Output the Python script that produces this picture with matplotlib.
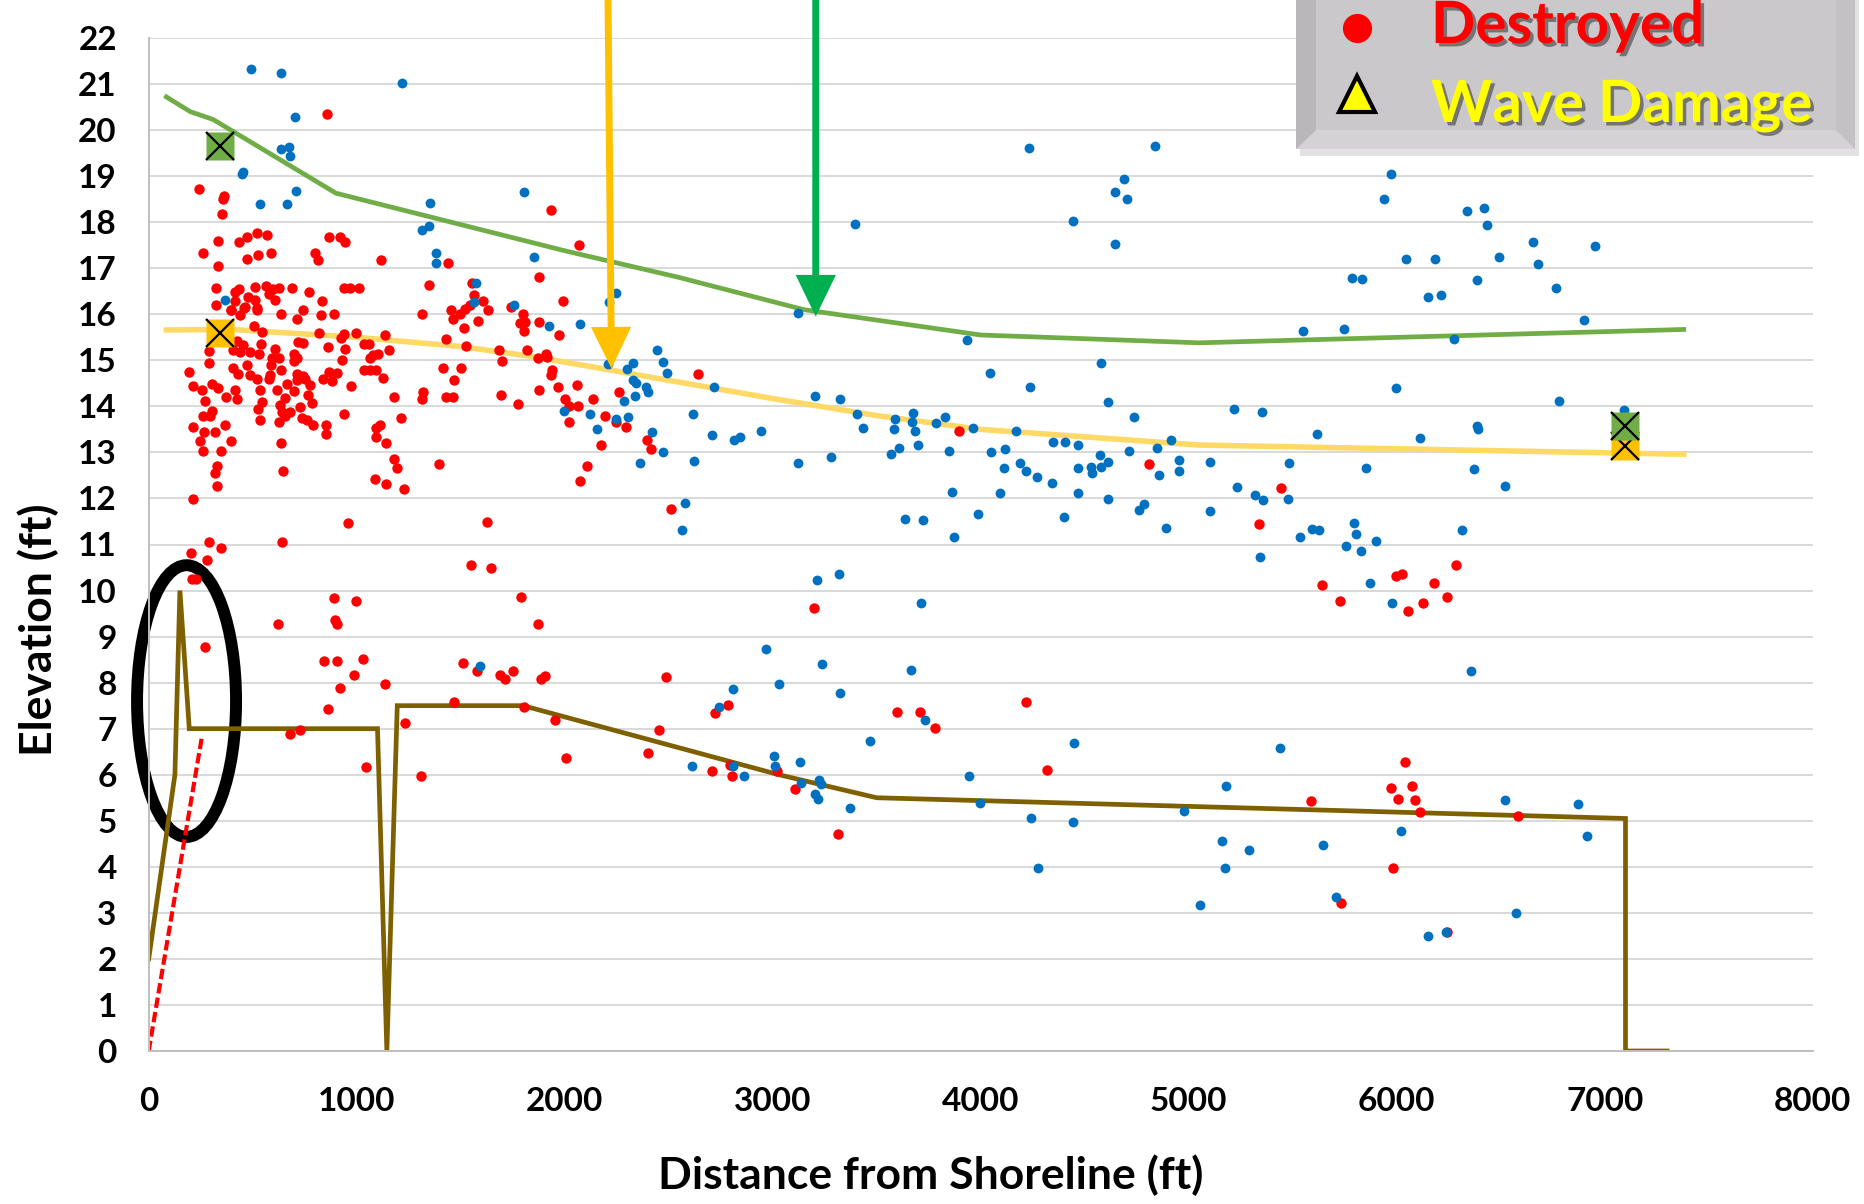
import matplotlib.pyplot as plt
import matplotlib.patheffects as pe
from matplotlib.patches import Ellipse, Polygon, Rectangle
from matplotlib.lines import Line2D

plt.rcParams['font.family'] = ['Lato', 'DejaVu Sans']
plt.rcParams['font.weight'] = 'bold'

# --- structures destroyed: (distance ft, elevation ft) ---
destroyed_x = [
    856, 242, 364, 355, 352, 1935, 333, 434, 473, 522, 570, 260, 471, 527, 588, 333, 799, 814, 865, 920,
    944, 1118, 1437, 1349, 1553, 1562, 1607, 1876, 325, 323, 415, 434, 415, 394, 476, 511, 511, 522, 460, 564,
    580, 599, 607, 628, 690, 772, 832, 939, 969, 1012,
    398, 461, 522, 439, 634, 740, 711, 826, 892, 506, 543, 423, 455, 406, 439, 487, 530, 538, 288, 291,
    195, 214, 256, 270, 262, 302, 294, 211, 266, 246, 259, 318, 366, 398, 350, 326, 320, 304, 331, 374,
    414, 423, 403, 430, 471, 487, 523, 535, 543, 527, 535, 607, 591, 628, 586, 634, 583, 578, 615, 663,
    655, 631, 639, 679, 655, 626, 634, 647, 716, 740, 700, 711, 700, 711, 740, 711, 751, 775, 698, 764,
    786, 727, 735, 759, 791, 820, 863, 836, 868, 882, 906, 929, 945, 924, 938, 999, 975, 938, 852, 852,
    1034, 1058, 1137, 1155, 1103, 1079, 1063, 1034, 1063, 1091, 1127, 1179, 1211, 1111, 1095, 1095, 1140, 1179, 1195, 1086,
    1312, 1427, 1413, 1467, 1501, 1320, 1316, 1429, 1464, 1395, 1453, 1461, 1496, 1520, 1544, 1584, 1632, 1515, 1525, 1682,
    1699, 1696, 1776, 1744, 1800, 1784, 1807, 1803, 1821, 1876, 1872, 1912, 1917, 1973, 1941, 1936, 1877, 1968, 2000, 2021,
    328, 1141, 1229, 214, 957, 1626, 639, 288, 348, 205, 279, 207, 226, 1548, 1644, 892, 998, 1788, 620, 895,
    907, 1870, 269, 841, 907, 1030, 985, 920, 1136, 1511, 1577, 1690, 1711, 1751, 1886, 1907,
    681, 727, 860, 1045, 1234, 1309, 1469, 1803, 1955,
    2070, 1993, 2057, 2022, 2062, 2134, 2259, 2195, 2249, 2293, 2176, 2108, 2073, 2397, 2416, 2642, 2509, 3896,
    2004, 2453, 2485, 2402, 2706, 2724, 2786, 2794, 2804, 3022, 3108, 3199, 3316, 3597, 3707, 3778,
    4810, 5443, 5337, 5643, 5995, 6026, 5726, 6055, 4220, 4318, 5590, 6039, 5975, 6007, 5983, 5731,
    6181, 6283, 6126, 6242, 6075, 6089, 6113, 6583, 6242,
]
destroyed_y = [
    20.36, 18.71, 18.57, 18.50, 18.18, 18.26, 17.59, 17.58, 17.67, 17.77, 17.72, 17.32, 17.21, 17.28, 17.32, 17.05, 17.33, 17.18, 17.67, 17.68,
    17.57, 17.18, 17.11, 16.63, 16.67, 16.42, 16.29, 16.82, 16.58, 16.21, 16.49, 16.54, 16.28, 16.10, 16.37, 16.60, 16.31, 16.10, 16.14, 16.62,
    16.45, 16.54, 16.31, 16.58, 16.58, 16.49, 16.28, 16.58, 16.58, 16.58,
    16.09, 16.16, 16.14, 15.98, 16.00, 16.10, 15.89, 15.98, 16.00, 15.75, 15.62, 15.43, 15.33, 15.22, 15.18, 15.18, 15.14, 15.36, 15.20, 14.95,
    14.75, 14.44, 14.35, 14.12, 13.80, 13.91, 13.79, 13.56, 13.44, 13.24, 13.04, 13.44, 13.59, 13.24, 13.04, 12.70, 12.56, 14.49, 14.40, 14.20,
    14.35, 14.15, 14.84, 14.71, 14.89, 14.69, 14.60, 14.35, 14.09, 13.95, 13.70, 15.25, 15.05, 15.05, 14.89, 14.80, 14.69, 14.60, 14.35, 14.49,
    14.19, 14.04, 13.88, 13.88, 13.80, 13.67, 13.20, 12.59, 15.40, 15.38, 15.14, 15.05, 14.98, 14.71, 14.66, 14.58, 14.59, 14.46, 14.33, 14.24,
    14.07, 13.99, 13.75, 13.70, 13.59, 15.60, 15.30, 14.60, 14.75, 14.55, 14.73, 15.00, 15.24, 15.49, 15.58, 15.60, 14.44, 13.84, 13.60, 13.41,
    15.35, 15.35, 15.54, 15.22, 15.14, 15.12, 15.04, 14.80, 14.80, 14.78, 14.62, 14.20, 13.75, 13.60, 13.54, 13.33, 13.20, 12.85, 12.66, 12.43,
    16.01, 15.46, 14.84, 14.58, 14.84, 14.31, 14.15, 14.20, 14.20, 12.74, 16.09, 15.89, 16.01, 16.12, 16.21, 15.85, 16.10, 15.70, 15.31, 15.22,
    14.99, 14.24, 14.05, 16.16, 16.00, 15.80, 15.83, 15.63, 15.22, 15.83, 15.05, 15.14, 15.07, 15.56, 14.80, 14.69, 14.35, 14.42, 14.17, 13.66,
    12.27, 12.31, 12.21, 11.98, 11.47, 11.49, 11.06, 11.06, 10.92, 10.81, 10.66, 10.26, 10.26, 10.56, 10.48, 9.83, 9.77, 9.87, 9.27, 9.35,
    9.27, 9.27, 8.77, 8.48, 8.48, 8.52, 8.17, 7.88, 7.98, 8.43, 8.26, 8.17, 8.08, 8.26, 8.08, 8.15,
    6.88, 6.97, 7.43, 6.17, 7.12, 5.97, 7.57, 7.48, 7.18,
    17.51, 16.29, 14.46, 14.01, 14.01, 14.17, 14.32, 13.80, 13.65, 13.56, 13.16, 12.70, 12.38, 13.28, 13.07, 14.71, 11.77, 13.46,
    6.37, 6.97, 8.12, 6.48, 6.08, 7.33, 7.51, 6.21, 5.97, 6.08, 5.68, 9.62, 4.72, 7.37, 7.37, 7.01,
    12.74, 12.23, 11.44, 10.12, 10.32, 10.37, 9.77, 9.56, 7.57, 6.10, 5.43, 6.27, 5.72, 5.47, 3.97, 3.22,
    10.16, 10.55, 9.74, 9.85, 5.76, 5.45, 5.20, 5.11, 2.59,
]

# --- structures not destroyed ---
standing_x = [
    492, 634, 1216, 702, 634, 676, 681, 447, 451, 708, 537, 665, 1354, 1806, 1312, 1350, 1381, 1381, 1852, 367,
    1575, 1562, 1755, 1926, 1996, 1593,
    3395, 2249, 2211, 2073, 2442, 2471, 2490, 2209, 2301, 2330, 2326, 2342, 2390, 2402, 2338, 2286, 2719, 2124, 2153, 2246,
    2306, 2419, 2472, 2360, 2615, 2623, 2706, 2815, 2842, 2942, 2576, 2563, 3123, 3204, 3324, 3403, 3435, 3123, 3280, 3935,
    3587, 3584, 3606, 3571, 3675, 3672, 3682, 3698, 3787, 3827, 3848, 3964, 3861, 3635, 3723, 3874, 3988,
    3214, 3321, 3712, 2966, 3238, 3028, 2807, 3324, 3667, 2740, 3731, 3469, 2610, 2807, 2863, 3007, 3010, 3131, 3137, 3223,
    3230, 3204, 3219, 3374, 3943, 3996,
    4233, 4839, 4690, 4645, 4701, 4446, 4645, 5975, 5941, 6043, 5786, 5835, 5550, 5749, 4044, 4238, 4576, 4613, 4736, 5217,
    5351, 5997, 5619, 4169, 4049, 4119, 4110, 4188, 4220, 4272, 4341, 4350, 4406, 4470, 4466, 4530, 4534, 4573, 4576, 4613,
    4095, 4467, 4613, 4401, 4760, 4786, 4711, 4848, 4917, 4856, 4954, 4953, 4890, 5102, 5102, 5234, 5318, 5355, 5478, 5480,
    5534, 5593, 5625, 5794, 5803, 5755, 5826, 5899, 5854, 5342, 5874,
    5979, 4448, 4244, 4276, 4443, 4978, 5052, 5180, 5162, 5175, 5291, 5438, 5646, 5710, 6019,
    6338, 6418, 6435, 6182, 6491, 6656, 6680, 6953, 6384, 6150, 6214, 6764, 6902, 6274, 6778, 7095, 6112, 6387, 6389, 6371,
    6519, 6315, 6358, 6523, 6871, 6916, 6575, 6150, 6238,
]
standing_y = [
    21.32, 21.25, 21.03, 20.28, 19.58, 19.63, 19.44, 19.04, 19.10, 18.68, 18.39, 18.39, 18.42, 18.65, 17.82, 17.92, 17.32, 17.11, 17.24, 16.32,
    16.67, 16.26, 16.20, 15.74, 13.91, 8.37,
    17.97, 16.47, 16.26, 15.78, 15.22, 14.96, 14.72, 14.91, 14.82, 14.95, 14.57, 14.51, 14.43, 14.32, 14.23, 14.11, 14.42, 13.84, 13.50, 13.73,
    13.77, 13.44, 13.01, 12.77, 13.83, 12.81, 13.37, 13.28, 13.34, 13.46, 11.91, 11.31, 16.03, 14.22, 14.17, 13.83, 13.54, 12.77, 12.90, 15.45,
    13.73, 13.50, 13.10, 12.97, 13.85, 13.67, 13.46, 13.16, 13.64, 13.77, 13.02, 13.52, 12.15, 11.56, 11.54, 11.16, 11.66,
    10.23, 10.37, 9.72, 8.72, 8.41, 7.97, 7.87, 7.77, 8.27, 7.48, 7.19, 6.73, 6.18, 6.19, 5.97, 6.41, 6.19, 6.27, 5.81, 5.89,
    5.80, 5.59, 5.47, 5.28, 5.97, 5.38,
    19.61, 19.65, 18.93, 18.65, 18.50, 18.02, 17.52, 19.04, 18.50, 17.21, 16.79, 16.76, 15.63, 15.67, 14.73, 14.42, 14.94, 14.10, 13.77, 13.94,
    13.88, 14.40, 13.40, 13.46, 13.00, 13.07, 12.67, 12.78, 12.59, 12.46, 12.34, 13.23, 13.23, 13.17, 12.67, 12.69, 12.55, 12.94, 12.69, 12.80,
    12.11, 12.11, 11.98, 11.60, 11.75, 11.87, 13.04, 13.10, 13.28, 12.52, 12.83, 12.60, 11.35, 12.80, 11.73, 12.25, 12.07, 11.96, 11.98, 12.77,
    11.17, 11.33, 11.31, 11.46, 11.23, 10.97, 10.85, 11.08, 12.67, 10.73, 10.17,
    9.72, 6.68, 5.07, 3.97, 4.97, 5.22, 3.17, 5.76, 4.57, 3.97, 4.37, 6.57, 4.47, 3.34, 4.78,
    18.24, 18.30, 17.94, 17.21, 17.25, 17.56, 17.10, 17.48, 16.75, 16.37, 16.42, 16.56, 15.87, 15.46, 14.12, 13.93, 13.31, 13.57, 13.50, 12.64,
    12.27, 11.31, 8.26, 5.45, 5.36, 4.66, 2.99, 2.50, 2.59,
]

# --- profiles along the transect ---
ground_x = [0, 126, 150, 195, 1100, 1145, 1195, 1800, 3030, 3500, 7100, 7100, 7300]
ground_y = [2.0, 6.0, 10.0, 7.0, 7.0, 0.0, 7.5, 7.5, 6.0, 5.5, 5.05, 0.0, 0.0]

crest_x = [85, 200, 310, 900, 2000, 2550, 3150, 4000, 5050, 7380]
crest_y = [20.72, 20.4, 20.23, 18.63, 17.38, 16.8, 16.1, 15.55, 15.38, 15.67]

stillwater_x = [85, 400, 1000, 1500, 1850, 3000, 3500, 4000, 5050, 7380]
stillwater_y = [15.66, 15.67, 15.5, 15.3, 15.08, 14.17, 13.8, 13.5, 13.16, 12.96]

dune_slope_x = [0, 255]
dune_slope_y = [0.0, 6.8]

# boxed reference points
crest_pts_x = [343, 7096]
crest_pts_y = [19.65, 13.57]
stillwater_pts_x = [343, 7096]
stillwater_pts_y = [15.59, 13.15]

# callout arrows (top -> tip)
orange_arrow = [(2208, 22.9), (2225, 14.82)]
green_arrow = [(3207, 22.9), (3207, 15.95)]

W, H = 1865, 1204
fig = plt.figure(figsize=(W / 100, H / 100), dpi=100)
ax = fig.add_axes([148.7 / W, 1 - 1051 / H, 1664 / W, 1013 / H])


def fx(px):
    return px / W


def fy(py):
    return 1 - py / H


ax.set_xlim(0, 8000)
ax.set_ylim(0, 22)
ax.set_xticks(range(0, 8001, 1000))
ax.set_yticks(range(0, 23))
ax.yaxis.grid(True, color='#D9D9D9', lw=1.4)
ax.set_axisbelow(True)
for s in ['top', 'right']:
    ax.spines[s].set_visible(False)
for s in ['left', 'bottom']:
    ax.spines[s].set_color('#BFBFBF')
    ax.spines[s].set_linewidth(1.4)
ax.tick_params(axis='both', length=0, labelsize=24)
ax.tick_params(axis='y', pad=23)
ax.tick_params(axis='x', pad=26)

# circled dune
ax.add_patch(Ellipse((182, 7.6), 476, 5.9, fill=False, ec='black', lw=8.6, clip_on=False, zorder=1.5))

ax.plot(ground_x, ground_y, color='#7F6000', lw=3.4, zorder=2, solid_joinstyle='miter')
ax.plot(dune_slope_x, dune_slope_y, color='#FF0000', lw=3.0, dashes=(2.5, 1.0), zorder=2.2)
ax.plot(crest_x, crest_y, color='#70AD47', lw=3.4, zorder=2)
ax.plot(stillwater_x, stillwater_y, color='#FFD966', lw=4.0, zorder=2)

ax.scatter(destroyed_x, destroyed_y, s=56, color='#FF0000', lw=0, zorder=3)
ax.scatter(standing_x, standing_y, s=50, color='#0070C0', lw=0, zorder=4)

# boxed points with an X
ax.plot(stillwater_pts_x, stillwater_pts_y, ls='none', marker='s', ms=19.5, mfc='#FFC000', mec='none', zorder=5)
ax.plot(stillwater_pts_x, stillwater_pts_y, ls='none', marker='x', ms=19.5, mec='black', mew=1.6, zorder=5.1)
ax.plot(crest_pts_x, crest_pts_y, ls='none', marker='s', ms=19.5, mfc='#70AD47', mec='none', zorder=5.2)
ax.plot(crest_pts_x, crest_pts_y, ls='none', marker='x', ms=19.5, mec='black', mew=1.6, zorder=5.3)

for (x0, y0), (x1, y1), col in [(orange_arrow[0], orange_arrow[1], '#FFC000'),
                                (green_arrow[0], green_arrow[1], '#00B050')]:
    ax.annotate('', xy=(x1, y1), xytext=(x0, y0), annotation_clip=False, zorder=6,
                arrowprops=dict(arrowstyle='simple,head_length=30,head_width=29,tail_width=5',
                                mutation_scale=1, color=col, lw=0, shrinkA=0, shrinkB=0))

ax.set_xlabel('Distance from Shoreline (ft)', fontsize=32, fontweight='bold', va='center')
ax.xaxis.set_label_coords((931 - 148.7) / 1664, (1051 - 1175) / 1013)
ax.set_ylabel('Elevation (ft)', fontsize=32, fontweight='bold', va='center')
ax.yaxis.set_label_coords((38 - 148.7) / 1664, (1051 - 630) / 1013)

# legend panel (top right, runs off the top edge)
fig.add_artist(Rectangle((fx(1300), fy(156)), fx(1859) - fx(1300), fy(0) - fy(156) + 0.02,
                         transform=fig.transFigure, fc='#A0A0A0', ec='none', alpha=0.3, zorder=7))
fig.add_artist(Rectangle((fx(1296), fy(149)), fx(1855) - fx(1296), fy(0) - fy(149) + 0.02,
                         transform=fig.transFigure, fc='#C3C1C3', ec='none', zorder=7.1))
fig.add_artist(Polygon([(fx(1296), fy(149)), (fx(1855), fy(149)), (fx(1836), fy(130)), (fx(1316), fy(130))],
                       closed=True, transform=fig.transFigure, fc='#D4D2D4', ec='none', zorder=7.2))
fig.add_artist(Polygon([(fx(1296), fy(149)), (fx(1316), fy(130)), (fx(1316), fy(-20)), (fx(1296), fy(-20))],
                       closed=True, transform=fig.transFigure, fc='#B9B7B9', ec='none', zorder=7.2))
fig.add_artist(Rectangle((fx(1316), fy(130)), fx(1836) - fx(1316), fy(-20) - fy(130),
                         transform=fig.transFigure, fc='#CAC8CA', ec='none', zorder=7.3))

fig.add_artist(Line2D([fx(1357)], [fy(28)], transform=fig.transFigure, ls='none', marker='o', ms=21,
                      mfc='#FF0000', mec='none', zorder=8))
fig.add_artist(Line2D([fx(1357)], [fy(94)], transform=fig.transFigure, ls='none', marker='^', ms=26,
                      mfc='#FFFF00', mec='black', mew=3, zorder=8))
shadow = [pe.withSimplePatchShadow(offset=(2.5, -2.5), shadow_rgbFace='#303030', alpha=0.55)]
fig.text(fx(1431), fy(43), 'Destroyed', color='#FF0000', fontsize=42, fontweight='bold',
         ha='left', va='baseline', path_effects=shadow, zorder=8)
fig.text(fx(1431), fy(122), 'Wave Damage', color='#FFFF00', fontsize=42, fontweight='bold',
         ha='left', va='baseline', path_effects=shadow, zorder=8)

fig.savefig('out.png', dpi=100)
